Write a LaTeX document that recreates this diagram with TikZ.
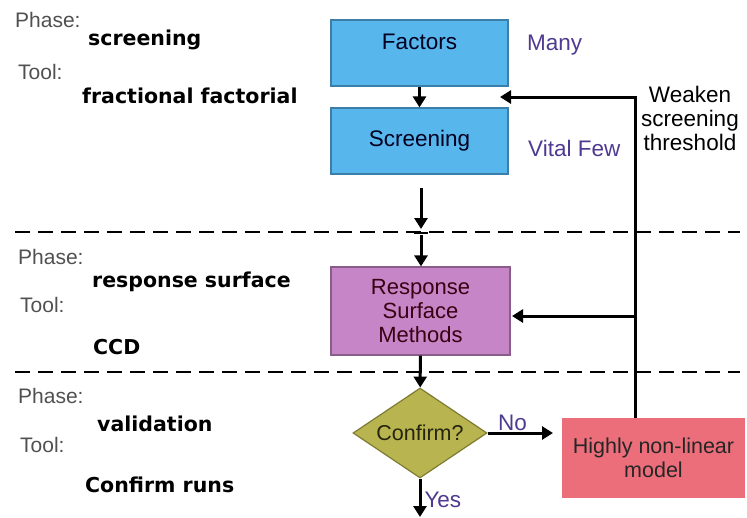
\documentclass[tikz,border=0pt]{standalone}
\usepackage{fontspec}
\setmainfont{Liberation Sans}
\newfontfamily\boldfam{DejaVu Sans}
\usetikzlibrary{shapes.geometric,arrows.meta}
\definecolor{boxblue}{HTML}{57B6EC}
\definecolor{boxblueb}{HTML}{3C7EA8}
\definecolor{boxpurp}{HTML}{C585C6}
\definecolor{boxpurpb}{HTML}{8A5C8A}
\definecolor{olive}{HTML}{B8B44F}
\definecolor{oliveb}{HTML}{7E7B32}
\definecolor{redbox}{HTML}{EC6E7A}
\definecolor{lblpurp}{HTML}{4E3A90}
\definecolor{phasegray}{HTML}{505050}
\tikzset{
  txt/.style={font=\fontsize{22.5}{24}\selectfont, inner sep=0pt},
  phaselbl/.style={font=\fontsize{21}{22}\selectfont, text=phasegray, anchor=west, inner sep=0pt},
  boldlbl/.style={font=\boldfam\bfseries\fontsize{20.5}{22}\selectfont, anchor=west, inner sep=0pt},
  bluebox/.style={draw=boxblueb, fill=boxblue, line width=1.2pt, minimum width=177pt, minimum height=66pt, inner sep=0pt, text=black!80!blue!60!black, font=\fontsize{22.5}{24}\selectfont},
  purplebox/.style={draw=boxpurpb, fill=boxpurp, line width=1.2pt, minimum width=179pt, minimum height=88pt, inner sep=0pt, align=center, text=black!70!purple, font=\fontsize{22}{24}\selectfont},
  arr/.style={line width=3pt, -{Triangle[length=11pt,width=13pt]}},
  sepline/.style={line width=2.8pt, dash pattern=on 15pt off 8pt},
  purplbl/.style={txt, text=lblpurp},
}
\begin{document}
\begin{tikzpicture}[x=1pt,y=-1pt]
\useasboundingbox (0,0) rectangle (747,517);

% separators
\draw[sepline] (15,232) -- (740,232);
\draw[sepline] (15,372) -- (740,372);

% left labels
\node[phaselbl] (p1) at (15,20) {Phase:};
\node[boldlbl] (s1) at (88,40) {screening};
\node[phaselbl] (t1) at (18,72) {Tool:};
\node[boldlbl] (f1) at (82,96) {fractional factorial};
\node[phaselbl] (p2) at (18,257) {Phase:};
\node[boldlbl] (s2) at (92,282) {response surface};
\node[phaselbl] (t2) at (20,305) {Tool:};
\node[boldlbl] (f2) at (93,347) {CCD};
\node[phaselbl] (p3) at (18,396) {Phase:};
\node[boldlbl] (s3) at (97,424) {validation};
\node[phaselbl] (t3) at (20,445) {Tool:};
\node[boldlbl] (f3) at (85,485) {Confirm runs};

% boxes
\node[bluebox, text depth=19pt, text height=11pt] (fac) at (419.5,53) {Factors};
\node[bluebox] (scr) at (419.5,141) {Screening};
\node[purplebox] (rsm) at (420.5,311) {Response\\Surface\\Methods};
\node[diamond, draw=oliveb, fill=olive, line width=1.2pt, aspect=1.49, minimum width=134pt, minimum height=90pt, inner sep=0pt, font=\fontsize{21.5}{24}\selectfont, text=black!80!olive] (conf) at (420,433) {Confirm?};
\node[fill=redbox, minimum width=183pt, minimum height=80pt, inner sep=0pt, align=center, font=\fontsize{21.5}{24}\selectfont, text=black!85] (nl) at (653.5,458) {Highly non-linear\\model};

% side labels
\node[purplbl, anchor=west] (many) at (527,45) {Many};
\node[purplbl, anchor=west] (vf) at (528,148) {Vital Few};
\node[txt, align=center] (wk) at (690,118) {Weaken\\screening\\threshold};

% main flow
\draw[arr] (fac) -- (scr);
\coordinate (a1) at (421,188);
\coordinate (a2) at (421,229);
\coordinate (a3) at (421,235);
\draw[arr] (a1) -- (a2);
\draw[line width=1.5pt] (414,233) -- (428,233);
\draw[arr] (a3) -- (rsm.north -| a3);
\draw[arr] (rsm) -- (conf);
\coordinate (yesend) at (420,517);
\draw[arr] (conf.south) -- (yesend) node[purplbl, pos=0.55, anchor=west, xshift=3pt] (yes) {Yes};
\coordinate (noend) at (553,433);
\draw[arr] (conf.east) -- (noend) node[purplbl, pos=0.38, anchor=south, yshift=1pt] (no) {No};

% feedback
\coordinate (fbtop) at (635,97);
\coordinate (fbtip) at (500,97);
\coordinate (fbmid) at (635,316);
\coordinate (fbmidtip) at (512,316);
\draw[line width=3pt] (nl.north -| fbtop) -- (fbtop);
\draw[arr] ([xshift=1.5pt]fbtop) -- (fbtip);
\draw[arr] (fbmid) -- (fbmidtip);
\end{tikzpicture}
\end{document}
